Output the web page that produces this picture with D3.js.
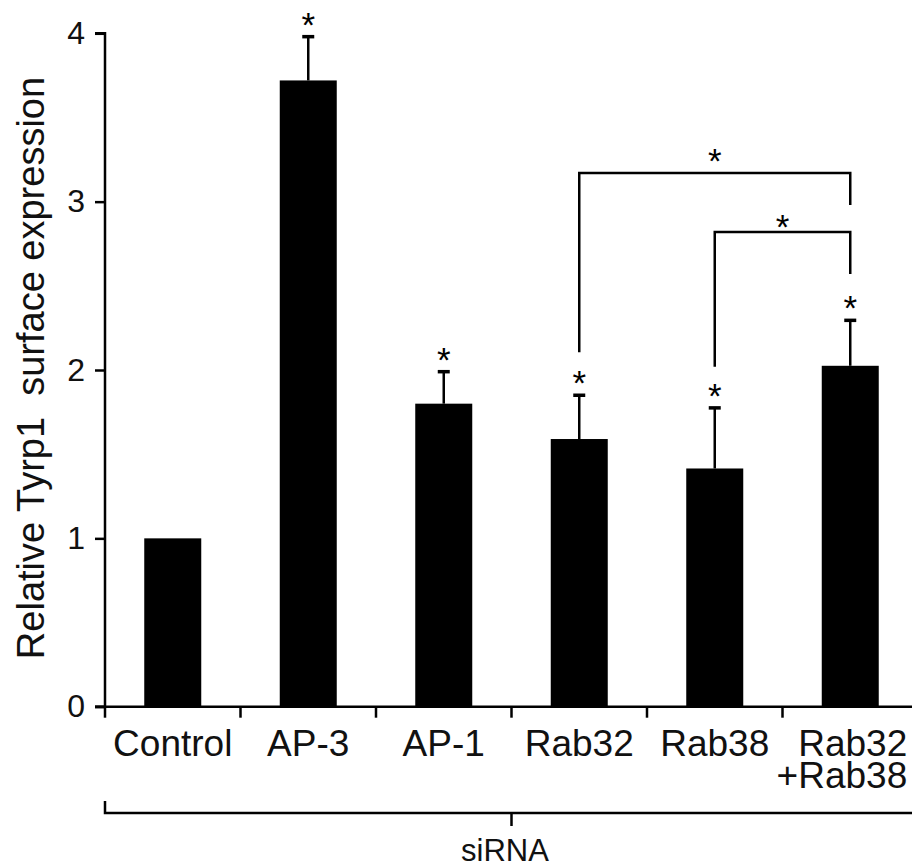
<!DOCTYPE html>
<html>
<head>
<meta charset="utf-8">
<script src="https://cdn.jsdelivr.net/npm/d3@7"></script>
<style>
  body { margin: 0; background: #fff; }
  svg { display: block; font-family: "Liberation Sans", Arial, sans-serif; }
  .cat-label { font-size: 37px; }
  .star { font-size: 35px; }
</style>
</head>
<body>
<div id="chart"></div>
<script>
// data
const categories = ['Control', 'AP-3', 'AP-1', 'Rab32', 'Rab38', 'Rab32+Rab38'];
const means = [1.0, 3.72, 1.80, 1.59, 1.415, 2.025];
const errors = [0, 0.26, 0.19, 0.26, 0.36, 0.27];
const significant = [false, true, true, true, true, true];
const yTicks = [0, 1, 2, 3, 4];

// comparison brackets: from / to category, level, leg ends (in y units)
const bracketFrom = ['Rab32', 'Rab38'];
const bracketTo = ['Rab32+Rab38', 'Rab32+Rab38'];
const bracketLevel = [3.17, 2.82];
const bracketLeftEnd = [2.105, 2.02];
const bracketRightEnd = [2.98, 2.57];

const config = {
  width: 912,
  height: 867,
  left: 105,
  right: 918,
  y0: 706.7,
  y4: 33.3,
  barWidth: 57,
  capWidth: 12,
  stroke: 2.5,
  starShift: 20, // baseline offset so the asterisk centre sits on the wanted y
};

const svg = d3
  .select('#chart')
  .append('svg')
  .attr('width', config.width)
  .attr('height', config.height);

const x = d3
  .scaleBand()
  .domain(categories)
  .range([config.left, config.right])
  .paddingInner(0)
  .paddingOuter(0);

const y = d3.scaleLinear().domain([0, 4]).range([config.y0, config.y4]);

const cx = (c) => x(c) + x.bandwidth() / 2;
const errTop = (c) => {
  const i = categories.indexOf(c);
  return y(means[i] + errors[i]);
};

// y axis
const yAxis = svg
  .append('g')
  .attr('transform', `translate(${config.left},0)`)
  .call(d3.axisLeft(y).tickValues(yTicks).tickSize(10).tickPadding(10).tickFormat(d3.format('d')));
yAxis.select('.domain').attr('stroke-width', config.stroke).attr('d', `M-10,${y(4)}H0V${y(0)}H-10`);
yAxis.selectAll('.tick line').attr('stroke-width', config.stroke);
yAxis.selectAll('.tick text').attr('fill', '#111').style('font-size', '32px').style('font-family', 'inherit');

// bars
svg
  .selectAll('rect.bar')
  .data(categories)
  .join('rect')
  .attr('class', 'bar')
  .attr('x', (d) => cx(d) - config.barWidth / 2)
  .attr('width', config.barWidth)
  .attr('y', (d, i) => y(means[i]))
  .attr('height', (d, i) => y(0) - y(means[i]))
  .attr('fill', '#000');

// error bars (upper only)
const errCats = categories.filter((d, i) => errors[i] > 0);
svg
  .selectAll('line.err')
  .data(errCats)
  .join('line')
  .attr('class', 'err')
  .attr('x1', (d) => cx(d))
  .attr('x2', (d) => cx(d))
  .attr('y1', (d) => y(means[categories.indexOf(d)]))
  .attr('y2', (d) => errTop(d))
  .attr('stroke', '#000')
  .attr('stroke-width', config.stroke);

svg
  .selectAll('line.cap')
  .data(errCats)
  .join('line')
  .attr('class', 'cap')
  .attr('x1', (d) => cx(d) - config.capWidth / 2)
  .attr('x2', (d) => cx(d) + config.capWidth / 2)
  .attr('y1', (d) => errTop(d))
  .attr('y2', (d) => errTop(d))
  .attr('stroke', '#000')
  .attr('stroke-width', 3.5);

// asterisks above error bars
svg
  .selectAll('text.bar-star')
  .data(categories.filter((d, i) => significant[i]))
  .join('text')
  .attr('class', 'star bar-star')
  .attr('x', (d) => cx(d))
  .attr('y', (d) => errTop(d) - 20 + config.starShift)
  .attr('text-anchor', 'middle')
  .text('*');

// x axis
svg
  .append('line')
  .attr('x1', config.left - 10)
  .attr('x2', config.right)
  .attr('y1', y(0))
  .attr('y2', y(0))
  .attr('stroke', '#000')
  .attr('stroke-width', config.stroke);

const xTickPos = categories.map((d) => x(d)).concat([config.right]);
svg
  .selectAll('line.xtick')
  .data(xTickPos)
  .join('line')
  .attr('class', 'xtick')
  .attr('x1', (d) => d)
  .attr('x2', (d) => d)
  .attr('y1', y(0))
  .attr('y2', y(0) + 11)
  .attr('stroke', '#000')
  .attr('stroke-width', config.stroke);

// category labels (the combined one is split over two lines, right aligned)
categories.forEach((d) => {
  if (d.includes('+')) {
    const parts = d.split('+');
    [parts[0], '+' + parts[1]].forEach((line, k) => {
      svg
        .append('text')
        .attr('class', 'cat-label')
        .attr('fill', '#111')
        .attr('x', cx(d) + 57)
        .attr('y', 756 + k * 32)
        .attr('text-anchor', 'end')
        .text(line);
    });
  } else {
    svg
      .append('text')
      .attr('class', 'cat-label')
      .attr('fill', '#111')
      .attr('x', cx(d))
      .attr('y', 756)
      .attr('text-anchor', 'middle')
      .text(d);
  }
});

// comparison brackets
bracketFrom.forEach((from, i) => {
  const xl = cx(from);
  const xr = cx(bracketTo[i]);
  svg
    .append('path')
    .attr('d', `M${xl},${y(bracketLeftEnd[i])}V${y(bracketLevel[i])}H${xr}V${y(bracketRightEnd[i])}`)
    .attr('fill', 'none')
    .attr('stroke', '#000')
    .attr('stroke-width', config.stroke);
  svg
    .append('text')
    .attr('class', 'star')
    .attr('x', (xl + xr) / 2)
    .attr('y', y(bracketLevel[i]) - (i === 0 ? 20 : 13) + config.starShift)
    .attr('text-anchor', 'middle')
    .text('*');
});

// siRNA group bracket
const gy = 813;
svg
  .append('path')
  .attr('d', `M${config.left},${gy - 12}V${gy}H${config.right}`)
  .attr('fill', 'none')
  .attr('stroke', '#000')
  .attr('stroke-width', config.stroke);
const mid = (config.left + config.right) / 2;
svg
  .append('line')
  .attr('x1', mid)
  .attr('x2', mid)
  .attr('y1', gy)
  .attr('y2', gy + 13)
  .attr('stroke', '#000')
  .attr('stroke-width', config.stroke);
svg
  .append('text')
  .attr('x', 505)
  .attr('y', 861)
  .attr('text-anchor', 'middle')
  .attr('fill', '#111')
  .style('font-size', '31px')
  .text('siRNA');

// y axis title
svg
  .append('text')
  .attr('transform', 'translate(44,368) rotate(-90)')
  .attr('text-anchor', 'middle')
  .attr('fill', '#111')
  .style('font-size', '38px')
  .style('white-space', 'pre')
  .text('Relative Tyrp1  surface expression');
</script>
</body>
</html>
